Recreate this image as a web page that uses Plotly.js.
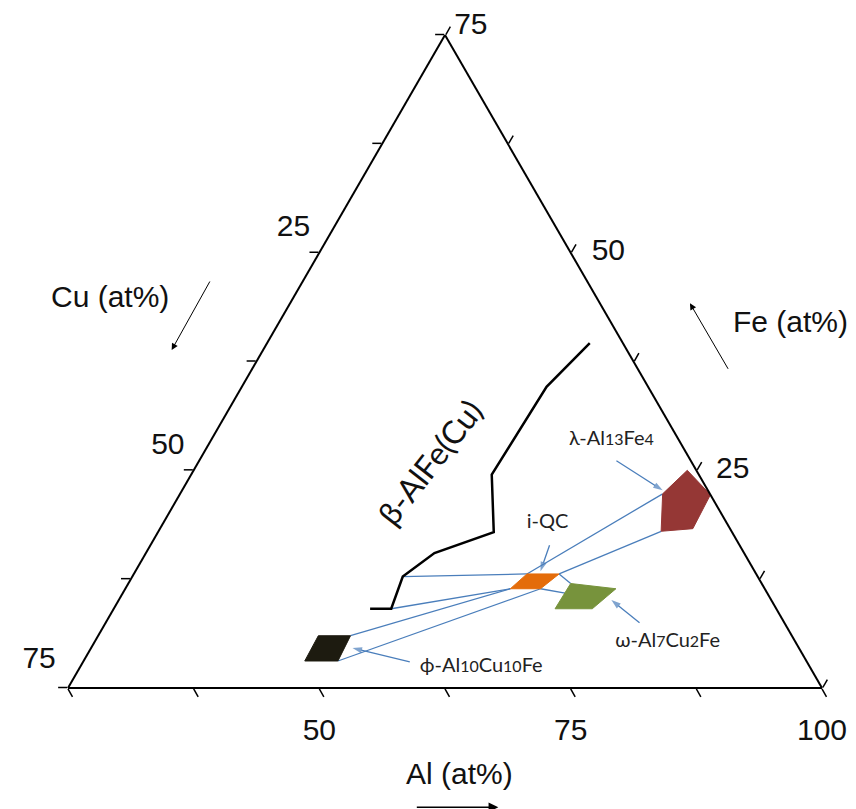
<!DOCTYPE html>
<html><head><meta charset="utf-8">
<script src="https://cdn.plot.ly/plotly-3.0.1.min.js"></script>
<style>html,body{margin:0;padding:0;background:#fff}</style>
</head><body><div id="chart" style="width:856px;height:809px"></div>
<script>
// Compositions in at% : a = Fe, b = Cu, c = Al
// lambda-Al13Fe4 region
const lambdaFe = [25.0, 22.2, 18.3, 18.0, 22.3];
const lambdaCu = [0.9, 0.0, 3.7, 7.0, 4.7];
const lambdaAl = [74.1, 77.8, 78.0, 75.0, 73.0];
// i-QC region
const iqcFe = [11.4, 13.1, 13.1, 11.4];
const iqcCu = [25.3, 22.8, 19.6, 22.3];
const iqcAl = [63.3, 64.1, 67.3, 66.3];
// omega-Al7Cu2Fe region
const omegaFe = [12.0, 11.4, 9.1, 9.1];
const omegaCu = [19.0, 14.8, 18.3, 22.0];
const omegaAl = [69.0, 73.8, 72.6, 68.9];
// phi-Al10Cu10Fe region
const phiFe = [6.0, 6.0, 3.1, 3.1];
const phiCu = [47.1, 43.9, 46.6, 49.9];
const phiAl = [46.9, 50.1, 50.3, 47.0];
// beta-AlFe(Cu) boundary
const betaFe = [9.1, 9.1, 12.8, 15.5, 17.9, 24.5, 34.6, 39.6];
const betaCu = [40.4, 38.3, 35.3, 30.8, 23.7, 20.6, 10.1, 3.3];
const betaAl = [50.5, 52.6, 51.9, 53.7, 58.4, 54.9, 55.3, 57.1];
// tie lines (pairs separated by null)
const tieFe = [12.8, 13.1, null, 9.1, 11.4, null, 6.0, 11.4, null, 3.1, 11.4, null, 13.1, 22.3, null, 13.1, 18.0, null, 13.1, 12.0, null, 11.4, 10.9];
const tieCu = [35.3, 22.8, null, 38.3, 25.3, null, 43.9, 25.3, null, 46.6, 22.3, null, 22.8, 4.7, null, 19.6, 7.0, null, 19.6, 19.0, null, 22.3, 20.1];
const tieAl = [51.9, 64.1, null, 52.6, 63.3, null, 50.1, 63.3, null, 50.3, 66.3, null, 64.1, 73.0, null, 67.3, 75.0, null, 67.3, 69.0, null, 66.3, 69.0];
// phase labels and callout arrows (tail, tip)
const sub = s => "<span style='font-size:16px'>" + s + "</span>";
const labelText = ["λ-Al" + sub("13") + "Fe" + sub("4"), "i-QC",
  "ω-Al" + sub("7") + "Cu" + sub("2") + "Fe", "ϕ-Al" + sub("10") + "Cu" + sub("10") + "Fe"];
const labelFe = [28.5, 19.0, 5.3, 2.4];
const labelCu = [6.7, 17.8, 12.7, 32.7];
const labelAl = [64.8, 63.2, 82.0, 64.9];
const arrowFe = [[26.1, 22.7], [16.4, 13.4], [7.5, 10.1], [3.0, 4.6]];
const arrowCu = [[7.4, 4.5], [18.9, 21.3], [14.4, 15.9], [39.5, 44.4]];
const arrowAl = [[66.5, 72.8], [64.7, 65.3], [78.1, 74.0], [57.5, 51.0]];
// axis tick positions
const tickVals = [0, 12.5, 25, 37.5, 50, 62.5, 75];
const alTickVals = [25, 37.5, 50, 62.5, 75, 87.5, 100];
const apexText = ["75", "", "", "", "", "", ""];   // Fe = 75 at the top corner
// tick labels: [Fe, Cu, Al] location on the frame and text
const tickLabFe = [50, 25, 0, 0, 0, 0, 50, 25];
const tickLabCu = [25, 50, 75, 50, 25, 0, 0, 0];
const tickLabAl = [25, 25, 25, 50, 75, 100, 50, 75];
const tickLabText = ["25", "50", "75", "50", "75", "100", "50", "25"];

const blue = '#4a7ebb';
const traces = [];
function poly(a, b, c, color) {
  traces.push({type: 'scatterternary', mode: 'lines', a: a.concat([a[0]]), b: b.concat([b[0]]), c: c.concat([c[0]]),
    fill: 'toself', fillcolor: color, line: {color: color, width: 1}, hoverinfo: 'skip', cliponaxis: false});
}
traces.push({type: 'scatterternary', mode: 'lines', a: tieFe, b: tieCu, c: tieAl,
  line: {color: blue, width: 1.3}, connectgaps: false, hoverinfo: 'skip'});
poly(lambdaFe, lambdaCu, lambdaAl, '#953735');
poly(iqcFe, iqcCu, iqcAl, '#e46c0a');
poly(omegaFe, omegaCu, omegaAl, '#77933c');
poly(phiFe, phiCu, phiAl, '#1d1b10');
traces.push({type: 'scatterternary', mode: 'lines', a: betaFe, b: betaCu, c: betaAl,
  line: {color: '#000', width: 2.5}, hoverinfo: 'skip'});
for (let i = 0; i < arrowFe.length; i++) {
  traces.push({type: 'scatterternary', mode: 'lines+markers', a: arrowFe[i], b: arrowCu[i], c: arrowAl[i],
    line: {color: blue, width: 1.3},
    marker: {symbol: ['circle', 'arrow'], size: [0, 10], color: blue, angleref: 'previous', line: {width: 0}},
    hoverinfo: 'skip', cliponaxis: false});
}
traces.push({type: 'scatterternary', mode: 'text', a: labelFe, b: labelCu, c: labelAl, text: labelText,
  textposition: 'middle center', textfont: {family: 'Lato, sans-serif', size: 20, color: '#222'},
  hoverinfo: 'skip', cliponaxis: false});
// tick labels placed at the frame points (invisible markers set the label offset)
traces.push({type: 'scatterternary', mode: 'markers+text', a: tickLabFe, b: tickLabCu, c: tickLabAl, text: tickLabText,
  textposition: ['top left', 'top left', 'top left', 'bottom center', 'bottom center', 'bottom center', 'middle right', 'middle right'],
  marker: {size: [13, 13, 18, 46, 46, 46, 32, 30], color: 'rgba(0,0,0,0)', line: {width: 0}},
  textfont: {family: 'Liberation Sans, Arial, sans-serif', size: 30, color: '#111'},
  hoverinfo: 'skip', cliponaxis: false});

const tickFont = {family: 'Liberation Sans, Arial, sans-serif', size: 30, color: '#111'};
const axBase = {
  showgrid: false, showline: true, linecolor: '#000', linewidth: 2,
  ticks: 'outside', ticklen: 9, tickwidth: 1.5, tickcolor: '#000',
  showticklabels: false, tickmode: 'array', title: {text: ''}, tickfont: tickFont
};
const layout = {
  width: 856, height: 809,
  margin: {l: 68, r: 34, t: 35, b: 121},
  paper_bgcolor: '#fff', showlegend: false, hovermode: false,
  ternary: {
    sum: 100, bgcolor: '#fff', domain: {x: [0, 1], y: [0, 1]},
    aaxis: Object.assign({}, axBase, {min: 0, tickvals: tickVals}),
    baxis: Object.assign({}, axBase, {min: 0, tickvals: tickVals}),
    caxis: Object.assign({}, axBase, {min: 25, tickvals: alTickVals, ticktext: apexText, showticklabels: true})
  },
  annotations: [
    {xref: 'paper', yref: 'paper', x: 0.0557, y: 0.5988, xanchor: 'center', yanchor: 'middle', text: 'Cu (at%)', showarrow: false, font: tickFont},
    {xref: 'paper', yref: 'paper', x: 0.9576, y: 0.5605, xanchor: 'center', yanchor: 'middle', text: 'Fe (at%)', showarrow: false, font: tickFont},
    {xref: 'paper', yref: 'paper', x: 0.5192, y: -0.1302, xanchor: 'center', yanchor: 'middle', text: 'Al (at%)', showarrow: false, font: tickFont},
    {xref: 'paper', yref: 'paper', x: 0.1375, y: 0.5176, ax: 39, ay: -70, text: '', showarrow: true,
      arrowhead: 2, arrowsize: 1.3, arrowwidth: 1, arrowcolor: '#000'},
    {xref: 'paper', yref: 'paper', x: 0.8249, y: 0.5891, ax: 39, ay: 67, text: '', showarrow: true,
      arrowhead: 2, arrowsize: 1.3, arrowwidth: 1, arrowcolor: '#000'},
    {xref: 'paper', yref: 'paper', x: 0.5707, y: -0.1827, ax: -83, ay: 0, text: '', showarrow: true,
      arrowhead: 2, arrowsize: 1.3, arrowwidth: 1.5, arrowcolor: '#000'},
    {xref: 'paper', yref: 'paper', x: 0.4801, y: 0.3461, xanchor: 'center', yanchor: 'middle', text: 'β-AlFe(Cu)',
      showarrow: false, textangle: -52, font: {family: 'Lato, sans-serif', size: 32, color: '#111'}}
  ]
};
Plotly.newPlot('chart', traces, layout, {staticPlot: true});
</script></body></html>
